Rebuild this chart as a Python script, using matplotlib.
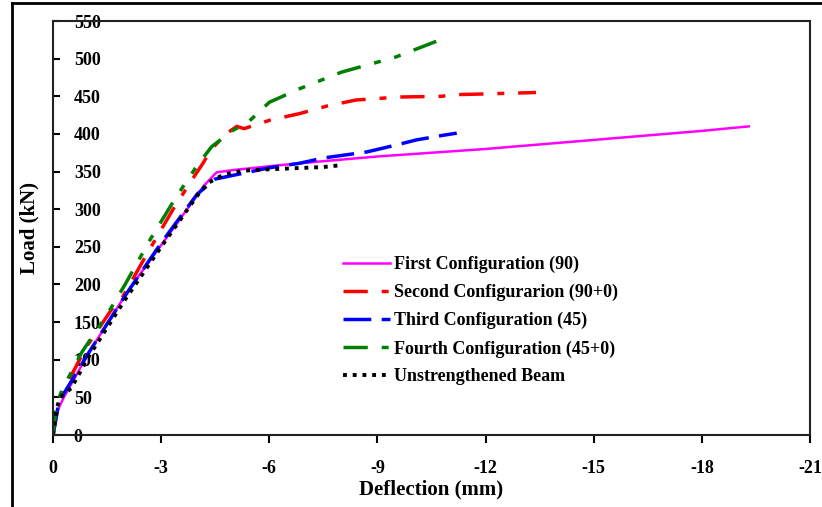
import matplotlib
matplotlib.use("Agg")
import matplotlib.pyplot as plt
from matplotlib.lines import Line2D

plt.rcParams['font.family'] = ['Liberation Serif', 'DejaVu Serif']

# ---- data (deflection mm, load kN) ----
first_x = [0, -0.1, -0.3, -1.0, -2.13, -3.3, -4.2, -4.54, -5.0, -6.0, -6.84, -9.0, -12.0, -15.0, -18.0, -19.3]
first_y = [0, 30, 50, 110, 195, 272, 332, 349, 352, 357, 361, 370, 380, 392, 404, 410]

second_x = [0, -0.15, -0.3, -0.9, -1.6, -1.94, -2.6, -3.32, -3.8, -4.16, -4.4, -4.8, -5.1, -5.3, -6.0, -6.84, -7.6, -8.4, -9.6, -10.8, -11.0, -11.9, -13.4]
second_y = [0, 40, 60, 115, 165, 184, 240, 299, 335, 361, 380, 400, 410, 407, 418, 427, 437, 445, 449, 450, 452, 453, 455]

third_x = [0, -0.15, -0.3, -1.0, -2.0, -3.0, -4.0, -4.5, -5.0, -5.5, -6.0, -6.84, -7.5, -8.7, -9.5, -10.08, -10.8, -11.2]
third_y = [0, 40, 55, 110, 185, 255, 320, 340, 345, 350, 355, 361, 368, 376, 385, 392, 398, 401]

fourth_x = [0, -0.1, -0.25, -0.8, -1.5, -2.0, -2.7, -3.4, -4.0, -4.4, -5.0, -5.4, -6.0, -6.84, -8.0, -9.5, -10.85]
fourth_y = [0, 40, 60, 110, 160, 200, 260, 315, 358, 383, 405, 415, 442, 460, 482, 502, 527]

unstr_x = [0, -0.1, -0.2, -0.5, -1.0, -2.0, -3.0, -4.0, -4.3, -4.7, -5.0, -5.5, -6.5, -7.5, -7.9]
unstr_y = [0, 35, 50, 62, 105, 180, 250, 318, 335, 345, 349, 352, 354, 356, 358]

labels = ["First Configuration (90)", "Second Configurarion (90+0)",
          "Third Configuration (45)", "Fourth Configuration (45+0)",
          "Unstrengthened Beam"]

x_ticks = [0, -3, -6, -9, -12, -15, -18, -21]
x_tick_labels = ["0", "-3", "-6", "-9", "-12", "-15", "-18", "-21"]
y_ticks = [0, 50, 100, 150, 200, 250, 300, 350, 400, 450, 500, 550]

fig = plt.figure(figsize=(8.22, 5.07), dpi=100)
ax = fig.add_axes([53/822, 1-435/507, (810-53)/822, (435-21)/507])

ax.plot(first_x, first_y, color='#ff00ff', lw=1.8, ls='-', label=labels[0])
ax.plot(second_x, second_y, color='#ff0000', lw=2.5, ls=(0, (7, 4, 2, 4)), label=labels[1])
ax.plot(third_x, third_y, color='#0000ff', lw=2.5, ls=(0, (8, 3)), label=labels[2])
ax.plot(fourth_x, fourth_y, color='#008000', lw=2.5, ls=(0, (7, 4, 2, 4, 2, 4)), label=labels[3])
ax.plot(unstr_x, unstr_y, color='black', lw=2.8, ls=(0, (1, 1.5)), label=labels[4])

ax.set_xlim(0, -21)
ax.set_ylim(0, 550)
ax.set_xticks(x_ticks)
ax.set_xticklabels(x_tick_labels)
ax.set_yticks(y_ticks)

for s in ax.spines.values():
    s.set_linewidth(1.5)
    s.set_color('#222222')

ax.tick_params(axis='x', direction='out', length=6, width=1.5, pad=12, labelsize=13)
ax.tick_params(axis='y', direction='in', length=5, width=1.5, pad=-15, labelsize=13)
for lab in ax.get_yticklabels():
    lab.set_horizontalalignment('left')
for lab in ax.get_xticklabels() + ax.get_yticklabels():
    lab.set_fontweight('bold')

ax.set_xlabel("Deflection (mm)", fontsize=15, fontweight='bold', labelpad=2)
ax.set_ylabel("Load (kN)", fontsize=15, fontweight='bold', labelpad=10)

leg = ax.legend(loc='upper left', bbox_to_anchor=(0.362, 0.472), frameon=False,
                handlelength=2.6, handletextpad=0.2, labelspacing=0.6,
                prop={'size': 13, 'weight': 'bold'})

# figure border
fig.add_artist(Line2D([12/822, 12/822], [0, 1-3/507], transform=fig.transFigure, color='black', lw=2))
fig.add_artist(Line2D([12/822, 1], [1-3/507, 1-3/507], transform=fig.transFigure, color='black', lw=2))

fig.savefig("out.png", dpi=100)
